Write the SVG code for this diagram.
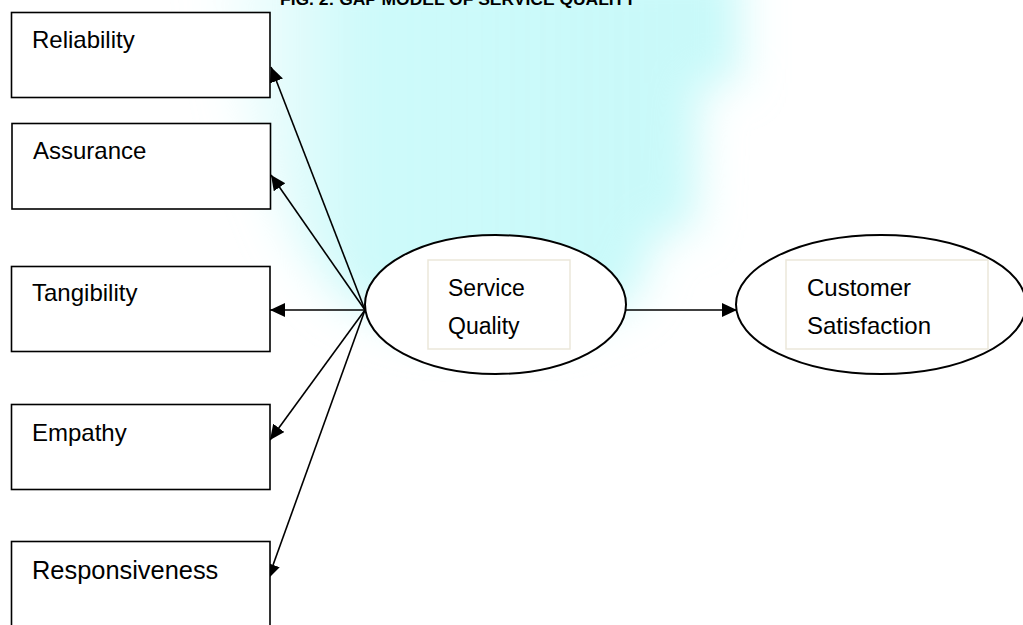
<svg xmlns="http://www.w3.org/2000/svg" width="1023" height="625" viewBox="0 0 1023 625">
<style>
.box{fill:#fff;stroke:#000;stroke-width:1.6}
.ell{fill:#fff;stroke:#000;stroke-width:2}
.inner{fill:#fff;stroke:#ebe7da;stroke-width:1.5}
.lbl{font-family:"Liberation Sans",Arial,sans-serif;font-size:24px;fill:#000}
.title{font-family:"Liberation Sans",Arial,sans-serif;font-size:17.4px;font-weight:bold;fill:#000}
.conn{stroke:#000;stroke-width:1.6;fill:none;marker-end:url(#ah)}
</style>
<defs>
<marker id="ah" markerUnits="userSpaceOnUse" markerWidth="18" markerHeight="16" refX="15" refY="7" orient="auto">
<path d="M0,0 L15,7 L0,14 Z" fill="#000"/>
</marker>
<linearGradient id="cg" x1="0" y1="0" x2="1" y2="0">
<stop offset="0" stop-color="#c8f9f9" stop-opacity="0"/>
<stop offset="0.3" stop-color="#c8f9f9" stop-opacity="0.9"/>
<stop offset="1" stop-color="#c8f9f9" stop-opacity="1"/>
</linearGradient>
<filter id="blur" x="-20%" y="-20%" width="140%" height="140%"><feGaussianBlur stdDeviation="22"/></filter>
</defs>
<rect width="1023" height="625" fill="#fff"/>
<g id="watermark">
<polygon points="200,-40 740,-40 740,83 700,83 695,230 658,232 635,300 560,330 420,330 340,300 290,240 240,120" fill="url(#cg)" filter="url(#blur)"/>
</g>
<text class="title" x="280" y="5" textLength="356" lengthAdjust="spacingAndGlyphs">FIG. 2: GAP MODEL OF SERVICE QUALITY</text>
<g id="connectors">
<line class="conn" x1="365" y1="310" x2="271" y2="67"/>
<line class="conn" x1="365" y1="310" x2="271" y2="175"/>
<line class="conn" x1="365" y1="310" x2="270" y2="310"/>
<line class="conn" x1="365" y1="310" x2="270" y2="440"/>
<line class="conn" x1="365" y1="310" x2="268" y2="579"/>
<line class="conn" x1="626" y1="310" x2="737" y2="310"/>
</g>
<g id="reliability">
<rect class="box" x="11.5" y="12.5" width="258.5" height="85"/>
<text class="lbl" x="32" y="48">Reliability</text>
</g>
<g id="assurance">
<rect class="box" x="12" y="123.5" width="258.5" height="85.5"/>
<text class="lbl" x="33" y="159">Assurance</text>
</g>
<g id="tangibility">
<rect class="box" x="11.5" y="266.5" width="258.5" height="85"/>
<text class="lbl" x="32" y="301">Tangibility</text>
</g>
<g id="empathy">
<rect class="box" x="11.5" y="404.5" width="258.5" height="85"/>
<text class="lbl" x="32" y="441">Empathy</text>
</g>
<g id="responsiveness">
<rect class="box" x="11.5" y="541.5" width="258.5" height="110"/>
<text class="lbl" x="32" y="579" style="font-size:25.4px">Responsiveness</text>
</g>
<g id="service-quality">
<ellipse class="ell" cx="495.5" cy="304.5" rx="130.5" ry="69.5"/>
<rect class="inner" x="428" y="260" width="142" height="89"/>
<text class="lbl" x="448" y="296" style="font-size:23px">Service</text>
<text class="lbl" x="448" y="334" style="font-size:23px">Quality</text>
</g>
<g id="customer-satisfaction">
<ellipse class="ell" cx="881" cy="304.5" rx="145" ry="69.5"/>
<rect class="inner" x="786" y="260" width="202" height="89"/>
<text class="lbl" x="807" y="296">Customer</text>
<text class="lbl" x="807" y="334">Satisfaction</text>
</g>
</svg>
